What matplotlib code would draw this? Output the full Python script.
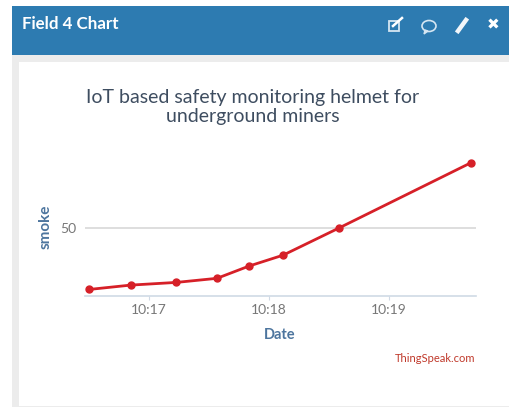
import matplotlib
matplotlib.use("Agg")
from matplotlib import pyplot as plt
from matplotlib.patches import Rectangle, Ellipse, Polygon

W, H = 509, 408

# seconds after 10:16, smoke reading
seconds = [30, 50.75, 73.75, 94, 110, 127, 155, 221]
smoke = [4.8, 8, 10, 13, 22, 30, 50, 98]
x_ticks = [60, 120, 180]
x_labels = ["10:17", "10:18", "10:19"]
y_ticks = [50]
y_labels = ["50"]

plt.rcParams["font.family"] = ["Lato", "DejaVu Sans"]

fig = plt.figure(figsize=(W / 100, H / 100), dpi=100, facecolor="white")


def box(x, y, w, h, color):
    # x, y in pixels from the top left of the picture
    fig.add_artist(Rectangle((x / W, 1 - (y + h) / H), w / W, h / H, color=color,
                             transform=fig.transFigure, lw=0))


def px(x, y):
    return x / W, 1 - y / H


# panel frame and header
box(12, 6, 497, 401, "#ececec")
box(19, 62, 490, 344, "white")
box(12, 6, 497, 49, "#2d7bb1")
fig.text(*px(22, 24), "Field 4 Chart", color="white", fontsize=12.2, fontweight="bold",
         va="center", ha="left")

# header icons
fig.add_artist(Rectangle(px(389, 31), 10 / W, 10 / H, fill=False, ec="#d5e6f2", lw=1.3,
                         transform=fig.transFigure))
fig.add_artist(plt.Line2D([px(393, 0)[0], px(402, 0)[0]], [px(0, 26)[1], px(0, 18)[1]],
                          color="white", lw=1.8, transform=fig.transFigure))
fig.add_artist(Ellipse(px(429, 26), 14 / W, 11 / H, fill=False, ec="#d5e6f2", lw=1.2,
                       transform=fig.transFigure))
fig.add_artist(Polygon([px(424, 34), px(425, 30), px(428, 31)], closed=True, color="#d5e6f2",
                       transform=fig.transFigure))
fig.add_artist(plt.Line2D([px(458, 0)[0], px(466, 0)[0]], [px(0, 31)[1], px(0, 20)[1]],
                          color="#f2f6fa", lw=3.2, transform=fig.transFigure))
fig.text(*px(493, 25), "✖", color="white", fontsize=11, va="center", ha="center",
         family=["DejaVu Sans"])

# chart
ax = fig.add_axes([85 / W, 1 - 296 / H, 391 / W, 146 / H])
ax.set_zorder(5)
ax.patch.set_alpha(0)
ax.set_xlim(28, 223.5)
ax.set_ylim(0, 107.35)
ax.plot(seconds, smoke, color="#d62028", lw=2.0, marker="o", ms=5, clip_on=False, zorder=3)

for side in ["top", "right", "left"]:
    ax.spines[side].set_visible(False)
ax.spines["bottom"].set_color("#d0dae5")
ax.spines["bottom"].set_linewidth(1.2)

ax.set_xticks(x_ticks)
ax.set_xticklabels(x_labels, color="#777777", fontsize=10)
ax.set_yticks(y_ticks)
ax.set_yticklabels(y_labels, color="#777777", fontsize=10)
ax.tick_params(axis="x", color="#d0dae5", length=3, pad=3)
ax.tick_params(axis="y", length=0, pad=6)
ax.grid(axis="y", color="#d8d8d8", lw=1.2)
ax.set_axisbelow(True)

fig.text(*px(253, 107), "IoT based safety monitoring helmet for\nunderground miners",
         color="#3e4d60", fontsize=14, ha="center", va="center", linespacing=1.1)
fig.text(*px(280, 335), "Date", color="#4d759e", fontsize=10.5, fontweight="bold",
         ha="center", va="center")
fig.text(*px(46, 227), "smoke", color="#4d759e", fontsize=11, fontweight="bold",
         rotation=90, ha="center", va="center")
fig.text(*px(475, 358), "ThingSpeak.com", color="#c0392b", fontsize=8, ha="right", va="center")

fig.savefig("out.png", dpi=100)
